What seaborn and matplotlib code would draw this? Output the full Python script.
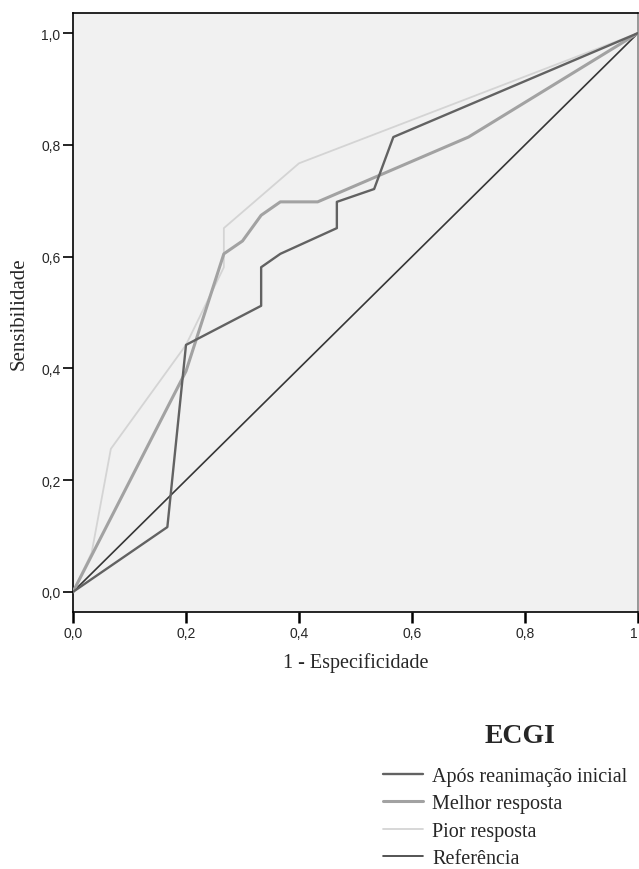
import matplotlib
matplotlib.use("Agg")
import matplotlib.pyplot as plt
import pandas as pd
import seaborn as sns

# ---------------------------------------------------------------------------
# DATA
# ---------------------------------------------------------------------------
series_names = ["Após reanimação inicial", "Melhor resposta", "Pior resposta", "Referência"]

x_apos = [0.0, 0.167, 0.200, 0.333, 0.333, 0.367, 0.467, 0.467, 0.533, 0.567, 1.0]
y_apos = [0.0, 0.116, 0.442, 0.512, 0.581, 0.605, 0.651, 0.698, 0.721, 0.814, 1.0]

x_melhor = [0.0, 0.200, 0.267, 0.300, 0.333, 0.367, 0.433, 0.700, 1.0]
y_melhor = [0.0, 0.395, 0.605, 0.628, 0.674, 0.698, 0.698, 0.814, 1.0]

x_pior = [0.0, 0.033, 0.067, 0.200, 0.267, 0.267, 0.400, 1.0]
y_pior = [0.0, 0.070, 0.256, 0.442, 0.581, 0.651, 0.767, 1.0]

x_ref = [0.0, 1.0]
y_ref = [0.0, 1.0]

tick_values = [0.0, 0.2, 0.4, 0.6, 0.8, 1.0]
y_tick_labels = ["0,0", "0,2", "0,4", "0,6", "0,8", "1,0"]
x_tick_labels = ["0,0", "0,2", "0,4", "0,6", "0,8", "1"]

legend_title = "ECGI"

# styles per series: colour, line width, z-order
STYLES = {
    "Após reanimação inicial": ("#626262", 1.7, 5),
    "Melhor resposta": ("#a2a2a2", 2.2, 4),
    "Pior resposta": ("#d4d4d4", 1.3, 3),
    "Referência": ("#363636", 1.2, 2),
}

SERIF = ["Liberation Serif", "DejaVu Serif"]
SANS = ["Liberation Sans", "DejaVu Sans"]

sns.set_style("white")
plt.rcParams["font.family"] = SANS

frames = []
for name, xs, ys in zip(
    series_names,
    [x_apos, x_melhor, x_pior, x_ref],
    [y_apos, y_melhor, y_pior, y_ref],
):
    frames.append(pd.DataFrame({"x": xs, "y": ys, "serie": name}))
df = pd.concat(frames, ignore_index=True)

fig = plt.figure(figsize=(6.39, 8.70), dpi=100)
ax = fig.add_axes([73 / 639, 1 - 613 / 870, 565 / 639, 599 / 870])
ax.set_facecolor("#f1f1f1")

handles = {}
for name in series_names:
    color, lw, z = STYLES[name]
    sub = df[df["serie"] == name]
    sns.lineplot(
        data=sub, x="x", y="y", sort=False, estimator=None,
        color=color, linewidth=lw, ax=ax, label=name, zorder=z,
    )
    handles[name] = ax.lines[-1]

ax.set_xlim(0, 1)
ax.set_ylim(-0.036, 1.036)

ax.set_xticks(tick_values)
ax.set_xticklabels(x_tick_labels, fontsize=10)
ax.get_xticklabels()[-1].set_horizontalalignment("right")
ax.set_yticks(tick_values)
ax.set_yticklabels(y_tick_labels, fontsize=10)
ax.tick_params(axis="x", direction="out", length=8, width=1.8, color="black", pad=2, bottom=True)
ax.tick_params(axis="y", direction="out", length=7, width=1.2, color="black", pad=2, left=True)

for side in ["left", "bottom", "top", "right"]:
    ax.spines[side].set_color("black")
    ax.spines[side].set_linewidth(1.2)
ax.spines["right"].set_color("#888888")

ax.set_xlabel("1 - Especificidade", family=SERIF, fontsize=14.5, labelpad=9)
ax.set_ylabel("Sensibilidade", family=SERIF, fontsize=15, labelpad=9)

ax.get_legend().remove()
fig.text(520 / 639, 1 - 737 / 870, legend_title, family=SERIF, fontsize=20,
         fontweight="bold", ha="center", va="center")
fig.legend(
    [handles[n] for n in series_names], series_names,
    loc="upper left", bbox_to_anchor=(383 / 639, 1 - 768 / 870),
    frameon=False, borderpad=0, borderaxespad=0,
    handlelength=2.0, handletextpad=0.45, labelspacing=0.41,
    prop={"family": SERIF, "size": 14.5},
)

fig.savefig("out.png", dpi=100)
